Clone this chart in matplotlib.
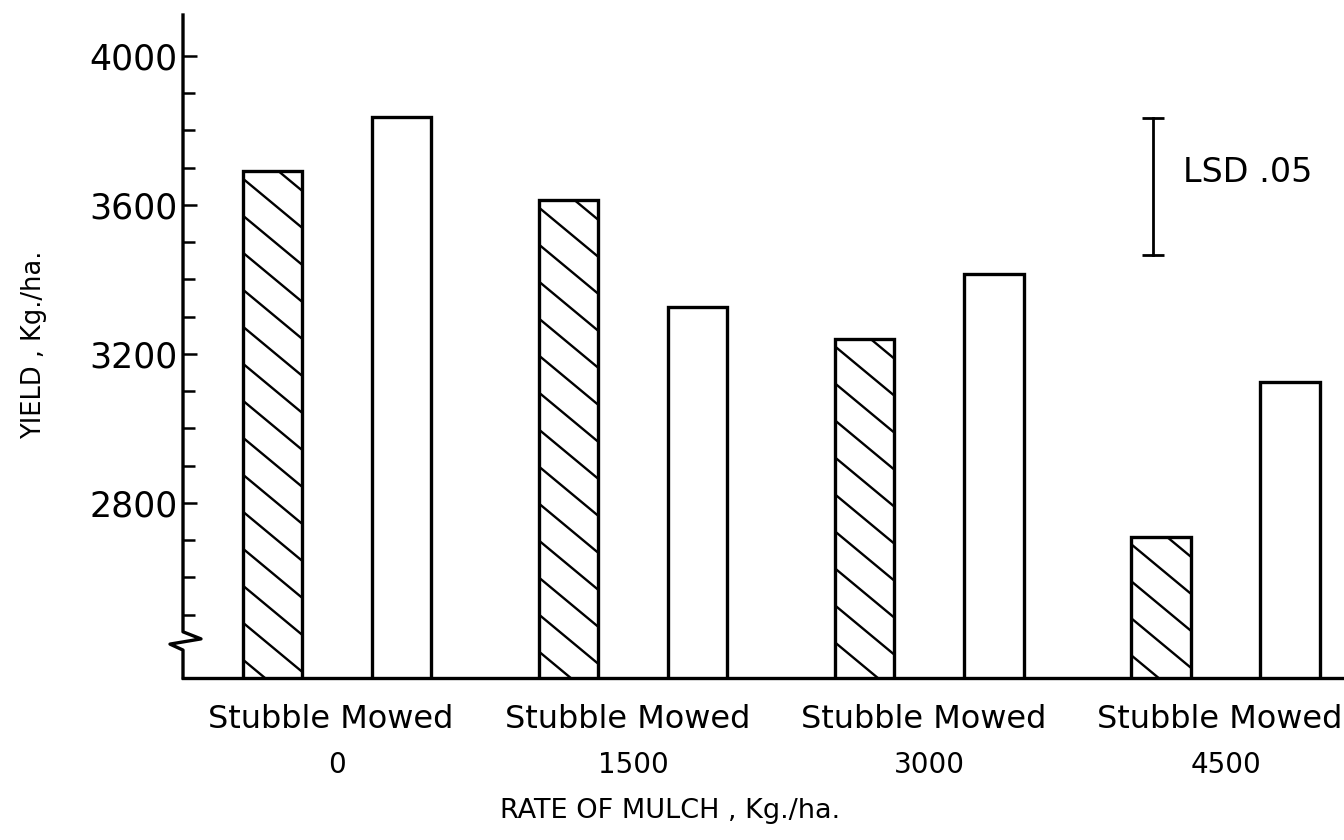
import numpy as np
import matplotlib
matplotlib.use("Agg")
import matplotlib.pyplot as plt
from matplotlib.transforms import blended_transform_factory

# ===== DATA =====
rates = ["0", "1500", "3000", "4500"]          # rate of mulch, Kg/ha
treatments = ["Stubble", "Mowed"]
stubble = [3691, 3613, 3240, 2709]             # yield, Kg/ha
mowed = [3836, 3326, 3415, 3125]
lsd_low, lsd_high = 3466, 3834                 # LSD .05 bar
y_floor, y_top = 2330, 4110
major_ticks = [2800, 3200, 3600, 4000]
minor_ticks = [2500, 2600, 2700, 2900, 3000, 3100, 3300, 3400, 3500,
               3700, 3800, 3900]

plt.rcParams['font.family'] = ['DejaVu Sans']

fig = plt.figure(figsize=(13.44, 8.4), dpi=100)
ax = fig.add_axes([183 / 1344, 1 - 678 / 840, 1 - 183 / 1344, (678 - 15) / 840])

x = np.arange(len(rates))
w = 0.2
off = 0.218
lw = 2.4

bars_s = ax.bar(x - off, np.array(stubble) - y_floor, bottom=y_floor, width=w,
                facecolor='white', edgecolor='black', linewidth=lw, zorder=3)
bars_m = ax.bar(x + off, np.array(mowed) - y_floor, bottom=y_floor, width=w,
                facecolor='white', edgecolor='black', linewidth=lw, zorder=3)

ax.set_xlim(-0.52, 3.40)
ax.set_ylim(y_floor, y_top)

# ----- hand-drawn style hatch (shallower than 45 deg), clipped by hand -----
slope = 0.83      # pixel drop per pixel to the right
gap = 37          # vertical spacing in pixels
inv = ax.transData.inverted()
for p in bars_s:
    (px0, py0), (px1, py1) = ax.transData.transform(
        [[p.get_x(), p.get_y()],
         [p.get_x() + p.get_width(), p.get_y() + p.get_height()]])
    W = px1 - px0
    d = py1 + slope * 0.6 * W
    while d > py0:
        xa = max(px0, px0 + (d - py1) / slope)
        xb = min(px1, px0 + (d - py0) / slope)
        if xb > xa:
            ya = d - slope * (xa - px0)
            yb = d - slope * (xb - px0)
            pts = inv.transform([[xa, ya], [xb, yb]])
            ax.plot(pts[:, 0], pts[:, 1], color='black', lw=1.7, zorder=3.5,
                    solid_capstyle='butt')
        d -= gap
ax.set_xlim(-0.52, 3.40)
ax.set_ylim(y_floor, y_top)

# ----- spines / broken y axis -----
for s in ['left', 'top', 'right']:
    ax.spines[s].set_visible(False)
ax.spines['bottom'].set_linewidth(lw)

tr = blended_transform_factory(ax.transAxes, ax.transData)
ax.plot([0, 0, 0.0155, -0.0112, 0, 0],
        [y_top, 2454, 2435, 2421, 2405, y_floor],
        transform=tr, color='black', lw=lw, clip_on=False,
        solid_joinstyle='round', zorder=4)

ax.set_yticks(major_ticks)
ax.set_yticks(minor_ticks, minor=True)
ax.tick_params(axis='y', which='major', direction='in', length=10, width=1.8,
               labelsize=25, pad=4)
ax.tick_params(axis='y', which='minor', direction='in', length=8.5, width=1.8)
ax.set_xticks([])

# ----- category labels -----
trx = blended_transform_factory(ax.transData, ax.transAxes)
for i in range(len(rates)):
    ax.text(x[i] - 0.02, -0.0633, " ".join(treatments), ha='center',
            va='center', fontsize=23, transform=trx, clip_on=False)
    ax.text(x[i], -0.131, rates[i], ha='center', va='center',
            fontsize=20, transform=trx, clip_on=False)

fig.text(670 / 1344, 1 - 811 / 840, "RATE OF MULCH , Kg./ha.",
         ha='center', va='center', fontsize=19.5)
fig.text(34 / 1344, 1 - 345 / 840, "YIELD , Kg./ha.", rotation=90,
         ha='center', va='center', fontsize=18.5)

# ----- LSD bar -----
lsd_x = 0.8355
ax.plot([lsd_x, lsd_x], [lsd_low, lsd_high], transform=tr, color='black',
        lw=2, marker='_', markersize=16, markeredgewidth=2, zorder=4)
ax.text(0.861, 3686, "LSD .05", transform=tr, ha='left', va='center',
        fontsize=24)

fig.savefig('out.png', dpi=100)
